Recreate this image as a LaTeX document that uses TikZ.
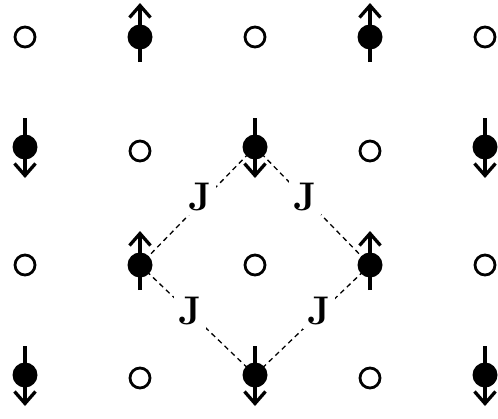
\documentclass[tikz,border=0pt]{standalone}
\usepackage{fontspec}
\usetikzlibrary{arrows.meta,backgrounds}
\begin{document}
\begin{tikzpicture}[x=1pt,y=-1pt,
  emptysite/.style={circle, draw=black, line width=2.8pt, minimum size=20pt, inner sep=0pt},
  fullsite/.style={circle, fill=black, minimum size=25pt, inner sep=0pt},
  spin/.style={line width=3.3pt, -{Straight Barb[length=12pt, width=21pt]}},
  bond/.style={line width=1.3pt, dash pattern=on 5pt off 4pt},
  jlabel/.style={fill=white, inner sep=4pt, font=\fontsize{40}{40}\selectfont\bfseries}]
\useasboundingbox (0,0) rectangle (498,418);
% row 0
\node[emptysite] (s-0-0) at (25,37) {};
\node[fullsite]  (s-1-0) at (140,37) {};
\node[emptysite] (s-2-0) at (255,37) {};
\node[fullsite]  (s-3-0) at (370,37) {};
\node[emptysite] (s-4-0) at (485,37) {};
% row 1
\node[fullsite]  (s-0-1) at (25,147) {};
\node[emptysite] (s-1-1) at (140,151) {};
\node[fullsite]  (s-2-1) at (255,147) {};
\node[emptysite] (s-3-1) at (370,151) {};
\node[fullsite]  (s-4-1) at (485,147) {};
% row 2
\node[emptysite] (s-0-2) at (25,265) {};
\node[fullsite]  (s-1-2) at (140,265) {};
\node[emptysite] (s-2-2) at (255,265) {};
\node[fullsite]  (s-3-2) at (370,265) {};
\node[emptysite] (s-4-2) at (485,265) {};
% row 3
\node[fullsite]  (s-0-3) at (25,375) {};
\node[emptysite] (s-1-3) at (140,378) {};
\node[fullsite]  (s-2-3) at (255,375) {};
\node[emptysite] (s-3-3) at (370,378) {};
\node[fullsite]  (s-4-3) at (485,375) {};
% bonds and labels
\begin{scope}[on background layer]
\draw[bond] (s-2-1.center) -- (s-1-2.center);
\draw[bond] (s-2-1.center) -- (s-3-2.center);
\draw[bond] (s-1-2.center) -- (s-2-3.center);
\draw[bond] (s-3-2.center) -- (s-2-3.center);
\node[jlabel] (j1) at (200,197) {J};
\node[jlabel] (j2) at (305,197) {J};
\node[jlabel] (j3) at (190,311) {J};
\node[jlabel] (j4) at (319,311) {J};
\end{scope}
% up spins
\foreach \n in {s-1-0,s-3-0,s-1-2,s-3-2}
  \draw[spin] ([yshift=-25pt]\n.center) -- ([yshift=34pt]\n.center);
% down spins
\foreach \n in {s-0-1,s-2-1,s-4-1,s-0-3,s-2-3,s-4-3}
  \draw[spin] ([yshift=29pt]\n.center) -- ([yshift=-31pt]\n.center);
\end{tikzpicture}
\end{document}
